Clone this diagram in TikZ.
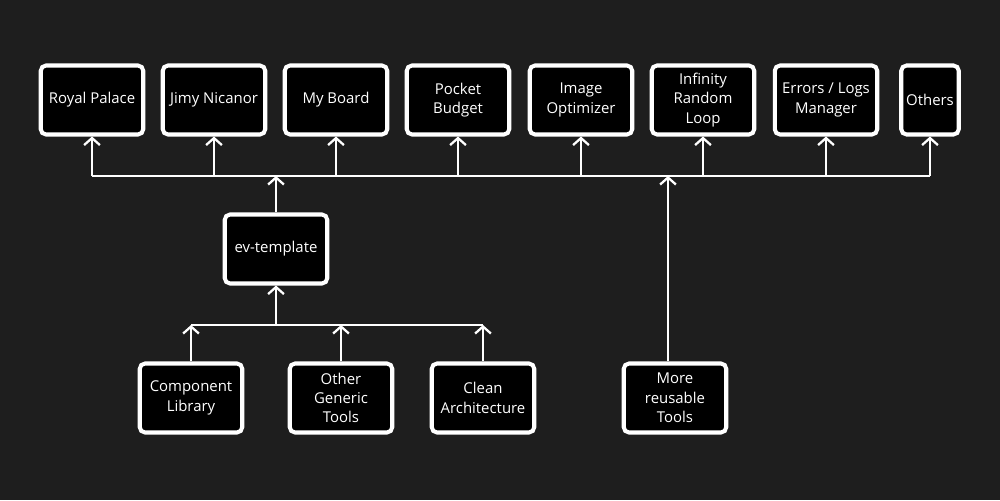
\documentclass[tikz,border=0pt]{standalone}
\usepackage{fontspec}
\setmainfont{Open Sans}
\usetikzlibrary{arrows.meta,positioning}
\definecolor{bgcol}{HTML}{1E1E1E}
\tikzset{
  box/.style={draw=white,fill=black,line width=2.3pt,rounded corners=3pt,
    text=white,align=center,font=\fontsize{8.5}{11}\selectfont,
    minimum width=2.05cm,minimum height=1.38cm,inner sep=1pt},
  line/.style={draw=white,line width=1.3pt},
  arr/.style={line,-{Straight Barb[length=4pt,width=9pt]}}
}
\begin{document}
\begin{tikzpicture}[x=0.02cm,y=-0.02cm]
  %fond
  \fill[bgcol] (0,0) rectangle (1000,500);
  \useasboundingbox (0,0) rectangle (1000,500);
  %projets
  \node[box] (royal) at (92,100) {Royal Palace};
  \node[box] (jimy) at (214,100) {Jimy Nicanor};
  \node[box] (board) at (336,100) {My Board};
  \node[box] (pocket) at (458,100) {Pocket\\Budget};
  \node[box] (image) at (581,100) {Image\\Optimizer};
  \node[box] (loop) at (703,100) {Infinity\\Random\\Loop};
  \node[box] (errors) at (826,100) {Errors / Logs\\Manager};
  \node[box,minimum width=1.15cm] (others) at (930,100) {Others};
  %template
  \node[box] (tpl) at (276,249) {ev-template};
  %outils
  \node[box] (comp) at (191,398) {Component\\Library};
  \node[box] (generic) at (341,398) {Other\\Generic\\Tools};
  \node[box] (clean) at (483,398) {Clean\\Architecture};
  \node[box] (more) at (675,398) {More\\reusable\\Tools};
  %bus
  \coordinate (topbus) at (0,176);
  \coordinate (lowbus) at (0,325);
  \draw[line] (royal.south |- topbus) -- (others.south |- topbus);
  \draw[line] (comp.north |- lowbus) -- (clean.north |- lowbus);
  \foreach \n in {royal,jimy,board,pocket,image,loop,errors,others}
    \draw[arr] (\n.south |- topbus) -- (\n.south);
  \foreach \n in {comp,generic,clean}
    \draw[arr] (\n.north) -- (\n.north |- lowbus);
  \draw[arr] (tpl.south |- lowbus) -- (tpl.south);
  \draw[arr] (tpl.north) -- (tpl.north |- topbus);
  \draw[arr] ([xshift=-0.14cm]more.north) -- ([xshift=-0.14cm]more.north |- topbus);
\end{tikzpicture}
\end{document}
